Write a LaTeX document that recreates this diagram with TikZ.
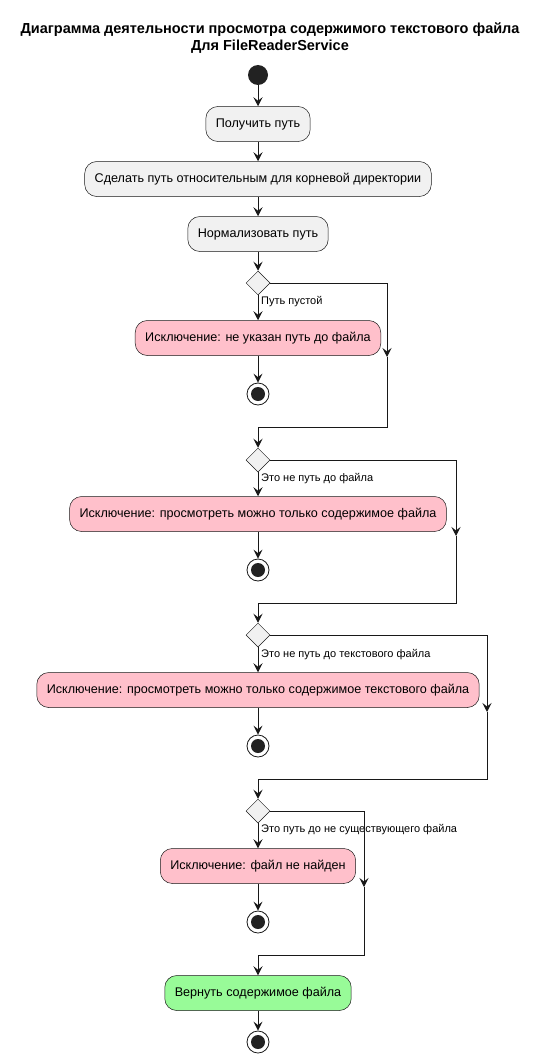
\documentclass[tikz,border=0pt]{standalone}
\usepackage{fontspec}
\setmainfont{Liberation Sans}
\usetikzlibrary{arrows.meta,shapes.geometric}

\definecolor{actgray}{HTML}{F1F1F1}
\definecolor{actpink}{HTML}{FFC0CB}
\definecolor{actgreen}{HTML}{98FB98}
\definecolor{linecol}{HTML}{181818}
\definecolor{dotcol}{HTML}{222222}

\tikzset{
    action/.style={rounded corners=12pt, draw=linecol, line width=0.5pt, fill=actgray,
        minimum height=35pt, inner xsep=10pt, font=\fontsize{12.6}{14}\selectfont},
    decision/.style={diamond, draw=linecol, line width=0.5pt, fill=actgray,
        minimum size=24pt, inner sep=0pt},
    startdot/.style={circle, fill=dotcol, minimum size=20pt, inner sep=0pt},
    stopdot/.style={circle, draw=linecol, line width=0.8pt, fill=white, minimum size=22pt,
        inner sep=0pt, path picture={\fill[dotcol] (path picture bounding box.center) circle (7pt);}},
    flow/.style={draw=linecol, line width=1pt, -{Stealth[length=9pt,width=9pt,inset=3.5pt]}},
    guard/.style={anchor=west, inner sep=0pt, font=\fontsize{11}{13}\selectfont}
}

\begin{document}
\begin{tikzpicture}[x=1pt, y=-1pt]
            \useasboundingbox (0, 0) rectangle (540, 1062);

            \node[font=\bfseries\fontsize{14.5}{17}\selectfont, align=center] (title) at (270, 38)
                {Диаграмма деятельности просмотра содержимого текстового файла\\Для FileReaderService};

            \node[startdot] (start) at (258, 75) {};
            \node[action] (getpath) at (258, 124) {Получить путь};
            \node[action] (relpath) at (258, 179) {Сделать путь относительным для корневой директории};
            \node[action] (normpath) at (258, 234) {Нормализовать путь};

            % empty path
            \node[decision] (d1) at (258, 283) {};
            \node[action, fill=actpink] (ex1) at (258, 338) {Исключение: не указан путь до файла};
            \node[stopdot] (stop1) at (258, 394) {};
            \node[guard] (g1) at (261, 302) {Путь пустой};
            \coordinate (m1) at (387, 357);
            \coordinate (j1) at (387, 427);

            % not a file
            \node[decision] (d2) at (258, 460) {};
            \node[action, fill=actpink] (ex2) at (258, 514) {Исключение: просмотреть можно только содержимое файла};
            \node[stopdot] (stop2) at (258, 570) {};
            \node[guard] (g2) at (261, 479) {Это не путь до файла};
            \coordinate (m2) at (456, 536);
            \coordinate (j2) at (456, 603);

            % not a text file
            \node[decision] (d3) at (258, 635) {};
            \node[action, fill=actpink] (ex3) at (258, 690) {Исключение: просмотреть можно только содержимое текстового файла};
            \node[stopdot] (stop3) at (258, 746) {};
            \node[guard] (g3) at (261, 655) {Это не путь до текстового файла};
            \coordinate (m3) at (487, 712);
            \coordinate (j3) at (487, 779);

            % file does not exist
            \node[decision] (d4) at (258, 811) {};
            \node[action, fill=actpink] (ex4) at (258, 866) {Исключение: файл не найден};
            \node[stopdot] (stop4) at (258, 922) {};
            \node[guard] (g4) at (261, 830) {Это путь до не существующего файла};
            \coordinate (m4) at (364, 887);
            \coordinate (j4) at (364, 955);

            \node[action, fill=actgreen] (ret) at (258, 993) {Вернуть содержимое файла};
            \node[stopdot] (stop5) at (258, 1042) {};

            \draw[flow] (start) -- (getpath);
            \draw[flow] (getpath) -- (relpath);
            \draw[flow] (relpath) -- (normpath);
            \draw[flow] (normpath) -- (d1);

            \draw[flow] (d1) -- (ex1);
            \draw[flow] (ex1) -- (stop1);
            \draw[flow] (d1.east) -| (m1);
            \draw[flow] (m1) -- (j1) -| (d2.north);

            \draw[flow] (d2) -- (ex2);
            \draw[flow] (ex2) -- (stop2);
            \draw[flow] (d2.east) -| (m2);
            \draw[flow] (m2) -- (j2) -| (d3.north);

            \draw[flow] (d3) -- (ex3);
            \draw[flow] (ex3) -- (stop3);
            \draw[flow] (d3.east) -| (m3);
            \draw[flow] (m3) -- (j3) -| (d4.north);

            \draw[flow] (d4) -- (ex4);
            \draw[flow] (ex4) -- (stop4);
            \draw[flow] (d4.east) -| (m4);
            \draw[flow] (m4) -- (j4) -| (ret.north);

            \draw[flow] (ret) -- (stop5);

        \end{tikzpicture}
\end{document}
